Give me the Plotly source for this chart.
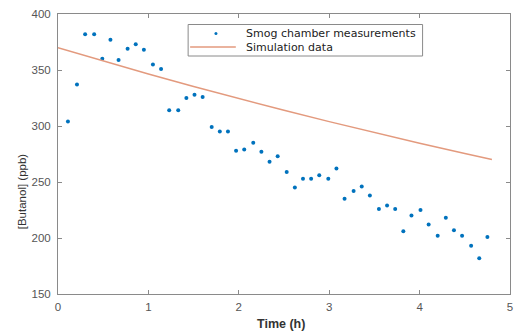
import plotly.graph_objects as go

meas_t = [0.11, 0.21, 0.30, 0.40, 0.49, 0.58, 0.67, 0.77, 0.86, 0.95,
          1.05, 1.14, 1.23, 1.33, 1.42, 1.51, 1.60, 1.70, 1.79, 1.88,
          1.97, 2.06, 2.16, 2.25, 2.34, 2.43, 2.53, 2.62, 2.71, 2.80,
          2.89, 2.99, 3.08, 3.17, 3.27, 3.36, 3.45, 3.55, 3.64, 3.73,
          3.82, 3.91, 4.01, 4.10, 4.20, 4.29, 4.38, 4.47, 4.57, 4.66,
          4.75]
meas_y = [304, 337, 382, 382, 360, 377, 359, 369, 373, 368,
          355, 351, 314, 314, 325, 328, 326, 299, 295, 295,
          278, 279, 285, 277, 268, 273, 259, 245, 253, 253,
          256, 253, 262, 235, 242, 246, 238, 226, 229, 226,
          206, 220, 225, 212, 202, 218, 207, 202, 193, 182,
          201]

# Simulation data
sim_t = [0, 0.5, 1.0, 1.5, 2.0, 2.5, 3.0, 3.5, 4.0, 4.5, 4.8]
sim_y = [370, 358.1, 346.5, 335.3, 324.5, 314.0, 303.9, 294.1, 284.6, 275.4, 270.0]

x_ticks = [0, 1, 2, 3, 4, 5]
y_ticks = [150, 200, 250, 300, 350, 400]

series_names = ["Smog chamber measurements", "Simulation data"]
BLUE = "#0072BD"
ORANGE = "#E39A7E"

fig = go.Figure()
fig.add_trace(go.Scatter(
    x=meas_t, y=meas_y, mode="markers", name=series_names[0],
    marker=dict(color=BLUE, size=4),
))
fig.add_trace(go.Scatter(
    x=sim_t, y=sim_y, mode="lines", name=series_names[1],
    line=dict(color=ORANGE, width=1.5),
))

axis_common = dict(
    showgrid=False, zeroline=False, showline=True, linecolor="#8a8a8a",
    linewidth=1, mirror="ticks", ticks="inside", ticklen=4, tickcolor="#8a8a8a",
    tickfont=dict(family="Liberation Sans, Arial", size=11.5, color="#555555"),
    ticklabeloverflow="allow",
)

fig.update_xaxes(range=[0, 5], tickvals=x_ticks, ticklabelstandoff=2, **axis_common)
fig.update_yaxes(range=[150, 400], tickvals=y_ticks, ticklabelstandoff=4, **axis_common)

# axis titles
fig.add_annotation(
    text="<b>Time (h)</b>", xref="paper", yref="paper", x=0.493, y=-0.107,
    xanchor="center", yanchor="middle", showarrow=False,
    font=dict(family="Liberation Sans, Arial", size=12.5, color="#333333"),
)
fig.add_annotation(
    text="[Butanol] (ppb)", xref="paper", yref="paper", x=-0.079, y=0.368,
    xanchor="center", yanchor="middle", showarrow=False, textangle=-90,
    font=dict(family="Liberation Sans, Arial", size=11.5, color="#333333"),
)

# legend (drawn to match the compact box of the original)
W_PLOT, H_PLOT, L, T = 455.0, 280.0, 58.0, 14.0
def px(xp):
    return (xp - L) / W_PLOT
def py(yp):
    return (T + H_PLOT - yp) / H_PLOT

row1, row2 = 33.5, 47.0
fig.add_shape(type="rect", xref="paper", yref="paper",
              x0=px(189), x1=px(425), y0=py(56), y1=py(24.5),
              line=dict(color="#8a8a8a", width=1), fillcolor="white", layer="above")
fig.add_shape(type="circle", xref="paper", yref="paper",
              x0=px(215.5), x1=px(218.5), y0=py(row1 + 1.5), y1=py(row1 - 1.5),
              line=dict(color=BLUE, width=0), fillcolor=BLUE, layer="above")
fig.add_shape(type="line", xref="paper", yref="paper",
              x0=px(191), x1=px(237), y0=py(row2), y1=py(row2),
              line=dict(color=ORANGE, width=1.5), layer="above")
fig.add_annotation(
    text="<br>".join(series_names), xref="paper", yref="paper",
    x=px(245), y=py((row1 + row2) / 2), align="left",
    xanchor="left", yanchor="middle", showarrow=False,
    font=dict(family="DejaVu Sans", size=11, color="#222222"),
)

fig.update_layout(
    width=516, height=331,
    margin=dict(l=58, r=3, t=14, b=37),
    paper_bgcolor="white", plot_bgcolor="white",
    showlegend=False,
)

fig.write_html("out.html")
